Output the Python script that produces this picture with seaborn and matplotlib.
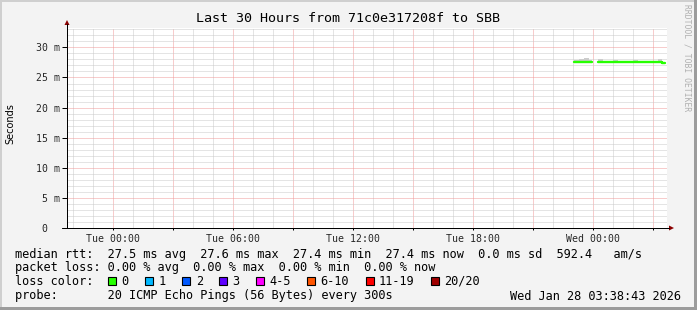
import matplotlib
matplotlib.use("Agg")
import numpy as np
import pandas as pd
import seaborn as sns
import matplotlib.pyplot as plt
from matplotlib.lines import Line2D
from matplotlib.patches import Rectangle, Polygon
from matplotlib.ticker import MultipleLocator

# ---------------- data ----------------
title = "Last 30 Hours from 71c0e317208f to SBB"
# hours relative to Tue 00:00
seg1_hours = [23.05, 23.30, 23.55, 23.80, 23.95]
seg1_median = [27.6, 27.6, 27.6, 27.6, 27.6]
seg1_smoke = [27.9, 28.0, 28.2, 27.9, 27.9]
seg2_hours = [24.25, 24.50, 24.75, 25.00, 25.25, 25.50, 25.75, 26.00,
              26.25, 26.50, 26.75, 27.00, 27.25, 27.42, 27.58]
seg2_median = [27.6, 27.6, 27.6, 27.6, 27.6, 27.6, 27.6, 27.6,
               27.6, 27.6, 27.6, 27.6, 27.6, 27.45, 27.45]
seg2_smoke = [28.1, 27.8, 27.8, 27.9, 27.8, 27.8, 27.8, 27.9,
              27.8, 27.8, 27.8, 27.8, 28.0, 27.6, 27.6]

x_start, x_end = -2.32, 27.68
xtick_hours = [0, 3, 6, 9, 12, 15, 18, 21, 24, 27]
xtick_labels = ["Tue 00:00", "", "Tue 06:00", "", "Tue 12:00", "",
                "Tue 18:00", "", "Wed 00:00", ""]
ytick_vals = [0, 5, 10, 15, 20, 25, 30]
ytick_labels = ["0  ", "5 m", "10 m", "15 m", "20 m", "25 m", "30 m"]
y_max = 33.22

legend_rows = [
    "median rtt:  27.5 ms avg  27.6 ms max  27.4 ms min  27.4 ms now  0.0 ms sd  592.4   am/s",
    "packet loss: 0.00 % avg  0.00 % max  0.00 % min  0.00 % now",
    "loss color:",
    "probe:       20 ICMP Echo Pings (56 Bytes) every 300s",
]
loss_labels = ["0", "1", "2", "3", "4-5", "6-10", "11-19", "20/20"]
loss_colors = ["#26ff00", "#00b8ff", "#0059ff", "#5e00ff", "#ff00ff",
               "#ff5500", "#ff0000", "#a00000"]
timestamp = "Wed Jan 28 03:38:43 2026"
watermark = "RRDTOOL / TOBI OETIKER"

# ---------------- figure ----------------
sns.set_theme(style="white")
plt.rcParams["font.family"] = ["DejaVu Sans Mono"]

W, H = 697, 310
fig = plt.figure(figsize=(W / 100, H / 100), dpi=100, facecolor="#f3f3f3")


def fx(x):
    return x / W


def fy(y):
    return 1 - y / H


ax = fig.add_axes([fx(67), fy(228), 600 / W, 200 / H])
ax.set_facecolor("white")
for s in ax.spines.values():
    s.set_visible(False)

ax.set_xlim(x_start, x_end)
ax.set_ylim(0, y_max)
ax.xaxis.set_minor_locator(MultipleLocator(1))
ax.yaxis.set_minor_locator(MultipleLocator(1))
ax.set_xticks(xtick_hours, xtick_labels)
ax.set_yticks(ytick_vals, ytick_labels)
ax.set_axisbelow(True)
ax.grid(which="minor", color="#cacaca", linestyle=(0, (1, 1)), linewidth=0.72)
ax.grid(which="major", color="#f09a9a", linestyle=(0, (1, 1)), linewidth=0.72)
ax.tick_params(axis="y", which="major", length=3.6, width=0.72, pad=1.2,
               direction="out", labelsize=7.1, color="black", left=True)
ax.tick_params(axis="x", which="major", length=1.5, width=0.72, pad=3.0,
               direction="out", labelsize=7.1, color="black", bottom=True)
ax.tick_params(which="minor", length=0)

# smoke
ax.fill_between(seg1_hours, seg1_median, seg1_smoke, step="post",
                color="#cccccc", linewidth=0, zorder=2)
ax.fill_between(seg2_hours, seg2_median, seg2_smoke, step="post",
                color="#cccccc", linewidth=0, zorder=2)

df = pd.DataFrame({
    "hour": seg1_hours + seg2_hours,
    "rtt": seg1_median + seg2_median,
    "seg": [1] * len(seg1_hours) + [2] * len(seg2_hours),
})
sns.lineplot(data=df, x="hour", y="rtt", units="seg", estimator=None,
             color="#26ff00", linewidth=1.7, drawstyle="steps-post",
             sort=False, legend=False, ax=ax, zorder=3)
ax.set_xlabel("")
ax.set_ylabel("")

# axis lines with arrows
tf = fig.transFigure
fig.add_artist(Line2D([fx(67), fx(67)], [fy(228), fy(24)], color="black",
                      lw=0.72, transform=tf))
fig.add_artist(Line2D([fx(62), fx(669)], [fy(228), fy(228)], color="black",
                      lw=0.72, transform=tf))
fig.add_artist(Polygon([(fx(64.5), fy(25)), (fx(69.5), fy(25)), (fx(67), fy(20))],
                       closed=True, color="#8b0000", transform=tf, lw=0))
fig.add_artist(Polygon([(fx(669), fy(225.5)), (fx(669), fy(230.5)), (fx(674), fy(228))],
                       closed=True, color="#8b0000", transform=tf, lw=0))

# texts
fig.text(fx(348.5), fy(18), title, ha="center", va="center", fontsize=9.6,
         color="black")
fig.text(fx(10), fy(124), "Seconds", rotation=90, ha="center", va="center",
         fontsize=7, family="DejaVu Sans", color="black")
fig.text(fx(687), fy(58), watermark, rotation=270, ha="center", va="center",
         fontsize=5.8, color="#b0b0b0")

row_y = [254.3, 267.7, 281.5, 296]
for txt, yy in zip(legend_rows, row_y):
    fig.text(fx(15.4), fy(yy), txt, ha="left", va="center", fontsize=8.55,
             color="black")
fig.text(fx(680.5), fy(296), timestamp, ha="right", va="center",
         fontsize=8.55, color="black")

box_x = [108.3, 145.3, 182.3, 219.3, 256.3, 307.3, 365.7, 431.0]
lab_x = [121.7, 158.7, 195.7, 232.7, 269.7, 320.7, 379.0, 444.5]
for bx, lx, lab, col in zip(box_x, lab_x, loss_labels, loss_colors):
    fig.add_artist(Rectangle((fx(bx), fy(285)), 8 / W, 8 / H, facecolor=col,
                             edgecolor="black", lw=0.8, transform=tf))
    fig.text(fx(lx), fy(281.5), lab, ha="left", va="center", fontsize=8.55,
             color="black")

# frame
fig.add_artist(Rectangle((0, 0), fx(2), 1, facecolor="#cfcfcf", lw=0, transform=tf))
fig.add_artist(Rectangle((0, fy(2)), 1, 2 / H, facecolor="#cfcfcf", lw=0, transform=tf))
fig.add_artist(Rectangle((fx(694), 0), 3 / W, 1, facecolor="#9c9c9c", lw=0, transform=tf))
fig.add_artist(Rectangle((0, 0), 1, 3 / H, facecolor="#9c9c9c", lw=0, transform=tf))

fig.savefig("out.png", dpi=100, facecolor=fig.get_facecolor())
